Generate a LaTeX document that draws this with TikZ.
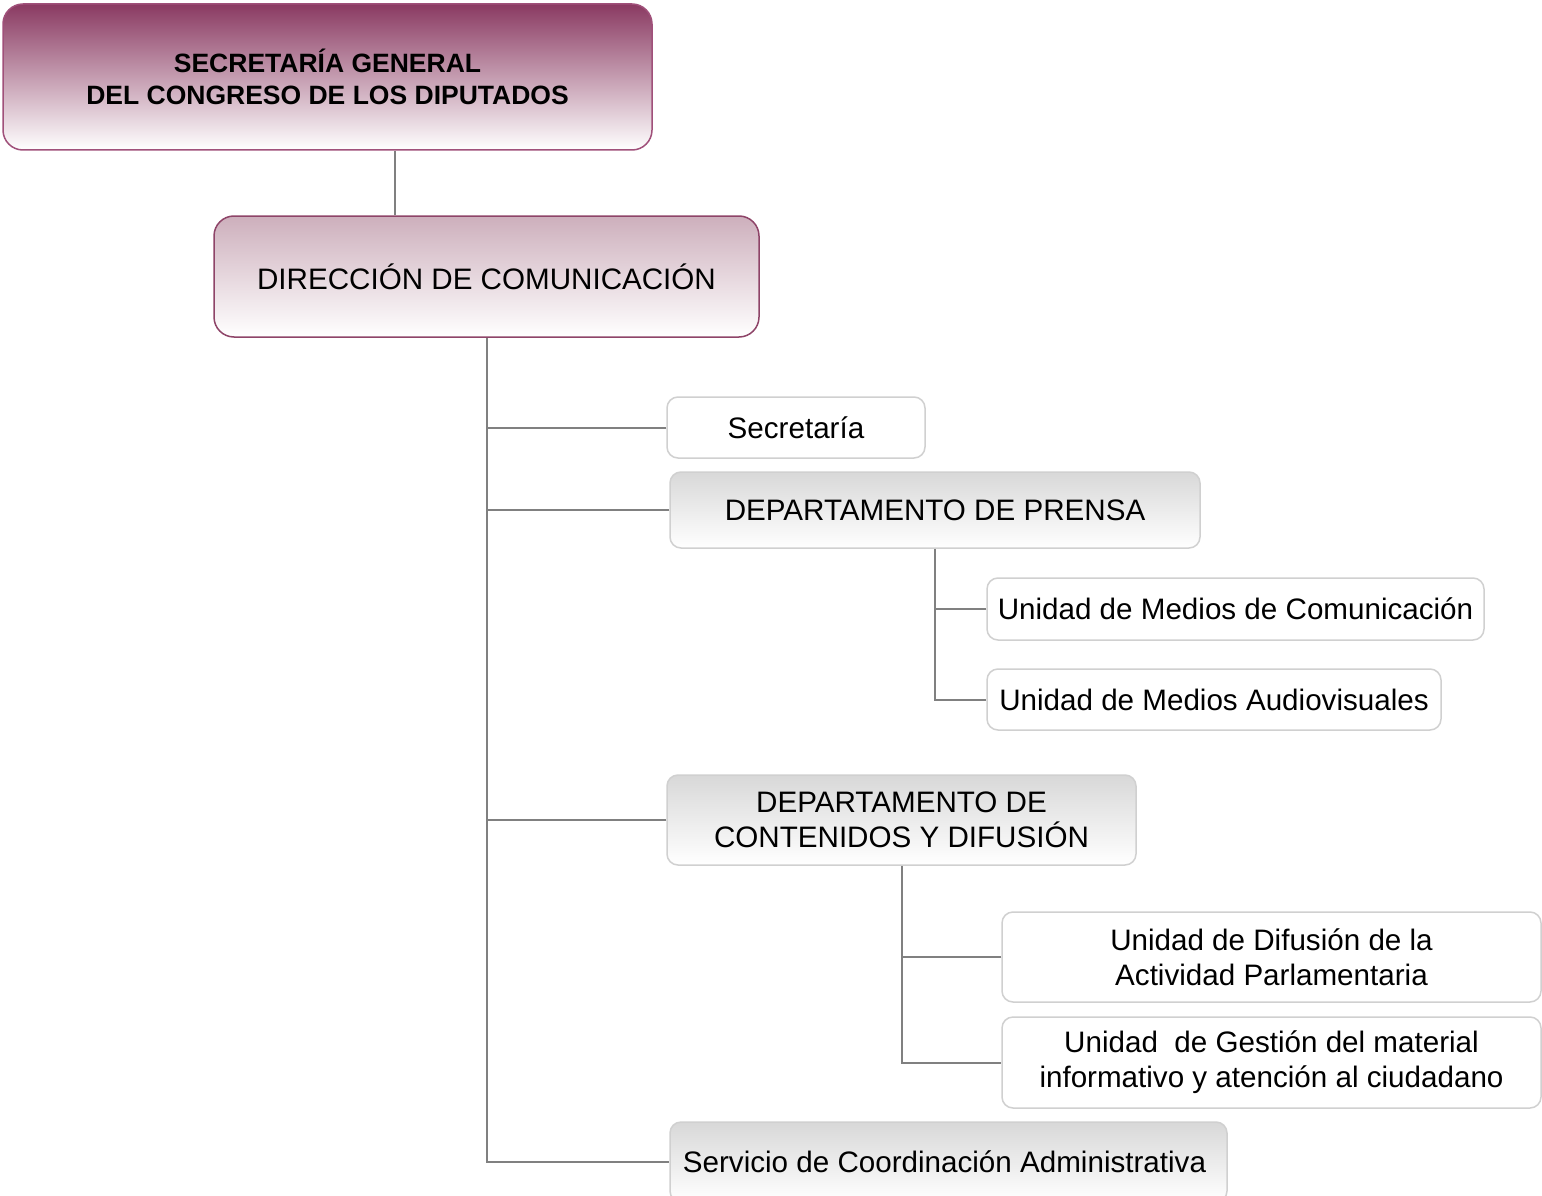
\documentclass[tikz,border=0pt]{standalone}
\usepackage{fontspec}
\setmainfont{Liberation Sans}
\begin{document}
\begin{tikzpicture}[x=1pt,y=-1pt,
  txt/.style={font=\fontsize{29.6}{35}\selectfont, align=center, inner sep=0pt, text=black},
  topbox/.style={txt, font=\fontsize{26.5}{32}\selectfont\bfseries, draw=magB, line width=1.5pt, rounded corners=20pt, top color=magA, bottom color=white},
  dirbox/.style={txt, draw=magC, line width=1.5pt, rounded corners=20pt, top color=magL, middle color=magL!85!white, bottom color=white},
  whitebox/.style={txt, draw=bordG, line width=1.5pt, rounded corners=11pt, fill=white},
  graybox/.style={txt, draw=bordG, line width=1.5pt, rounded corners=11pt, top color=grayT, bottom color=white},
  conn/.style={draw=lineG, line width=2pt}
]
\definecolor{magA}{HTML}{8A3A62}
\definecolor{magB}{HTML}{A0507A}
\definecolor{magC}{HTML}{8E4468}
\definecolor{magL}{HTML}{CDAFBC}
\definecolor{bordG}{HTML}{D0D0D0}
\definecolor{grayT}{HTML}{D8D8D8}
\definecolor{lineG}{HTML}{808080}
\clip (0,0) rectangle (1542,1196);
\fill[white] (0,0) rectangle (1542,1196);

\node[topbox, minimum width=649pt, minimum height=146pt] (top) at (327.5,77) {SECRETARÍA GENERAL\\DEL CONGRESO DE LOS DIPUTADOS};
\node[dirbox, minimum width=545pt, minimum height=121pt] (dir) at (486.5,276.5) {DIRECCIÓN DE COMUNICACIÓN};
\node[whitebox, minimum width=258pt, minimum height=61pt] (sec) at (796,427.5) {Secretaría};
\node[graybox, minimum width=530pt, minimum height=76pt] (prensa) at (935,510) {DEPARTAMENTO DE PRENSA};
\node[whitebox, minimum width=497pt, minimum height=62pt] (umc) at (1235.5,609) {Unidad de Medios de Comunicación};
\node[whitebox, minimum width=454pt, minimum height=61pt] (uma) at (1214,699.5) {Unidad de Medios Audiovisuales};
\node[graybox, minimum width=469pt, minimum height=90pt] (cont) at (901.5,820) {DEPARTAMENTO DE\\CONTENIDOS Y DIFUSIÓN};
\node[whitebox, minimum width=539pt, minimum height=90pt] (udif) at (1271.5,957) {Unidad de Difusión de la\\Actividad Parlamentaria};
\node[whitebox, minimum width=539pt, minimum height=91pt] (uges) at (1271.5,1062.5) {Unidad\ \ de Gestión del material\\informativo y atención al ciudadano};
\node[graybox, minimum width=557pt, minimum height=80pt] (serv) at (948.5,1162) {\hspace*{-8pt}Servicio de Coordinación Administrativa};

\coordinate (c1) at (395,0);
\draw[conn] (top.south -| c1) -- (dir.north -| c1);
\draw[conn] (dir.south) |- (serv.west);
\draw[conn] (sec.west) -- (sec.west -| dir.south);
\draw[conn] (prensa.west) -- (prensa.west -| dir.south);
\draw[conn] (cont.west) -- (cont.west -| dir.south);
\draw[conn] (prensa.south) |- (uma.west);
\draw[conn] (umc.west) -- (umc.west -| prensa.south);
\draw[conn] (cont.south) |- (uges.west);
\draw[conn] (udif.west) -- (udif.west -| cont.south);
\end{tikzpicture}
\end{document}
